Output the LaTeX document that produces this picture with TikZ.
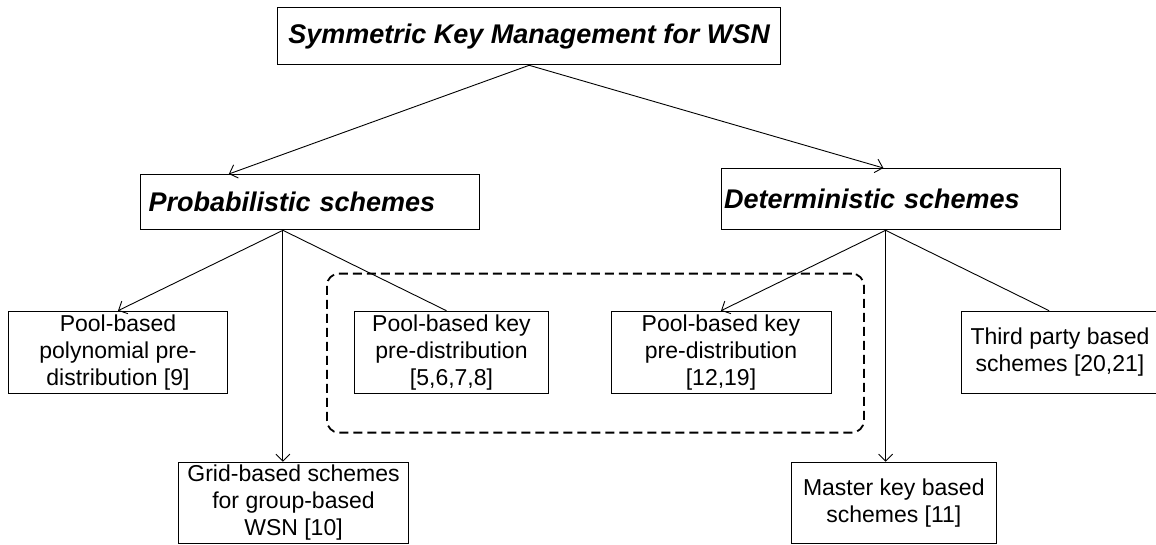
\documentclass[tikz,border=0pt]{standalone}
\usepackage{fontspec}
\setmainfont{Liberation Sans}
\usetikzlibrary{arrows.meta,calc}
\begin{document}
\begin{tikzpicture}[x=1pt,y=-1pt,
  headbox/.style={draw, line width=1.3pt, font=\fontsize{27}{32}\selectfont\bfseries\itshape, anchor=north west, inner sep=0pt},
  leafbox/.style={draw, line width=1pt, font=\fontsize{23}{27}\selectfont, align=center, anchor=north west, inner sep=0pt},
  conn/.style={line width=0.9pt},
  arr/.style={conn, -{Straight Barb[length=7pt,width=14pt]}},
  groupbox/.style={draw, line width=1.8pt, rounded corners=12pt, dash pattern=on 9pt off 5pt, anchor=north west, inner sep=0pt}
]
\useasboundingbox (0,0) rectangle (1156,544);

\node[groupbox, minimum width=537pt, minimum height=159pt] (grp) at (326,272.7) {};

\node[headbox, minimum width=503pt, minimum height=57pt] (root) at (277,7) {Symmetric Key Management for WSN};
\node[headbox, minimum height=55pt, inner xsep=8pt, text width=323pt, align=left] (prob) at (140,174) {Probabilistic schemes};
\node[headbox, minimum height=61pt, inner xsep=3pt, text width=333.5pt, align=left] (det) at (720.5,168) {Deterministic schemes};

\node[leafbox, minimum width=219pt, minimum height=82.6pt] (poly) at (8,310.7) {Pool-based\\polynomial pre-\\distribution [9]};
\node[leafbox, minimum width=194pt, minimum height=82.6pt] (k1) at (354,310.7) {Pool-based key\\pre-distribution\\{[5,6,7,8]}};
\node[leafbox, minimum width=220pt, minimum height=82.6pt] (k2) at (610.5,310.7) {Pool-based key\\pre-distribution\\{[12,19]}};
\node[leafbox, minimum width=197pt, minimum height=82.6pt] (third) at (961,310.7) {Third party based\\schemes [20,21]};
\node[leafbox, minimum width=230pt, minimum height=81.3pt] (grid) at (178,461.7) {Grid-based schemes\\for group-based\\WSN [10]};
\node[leafbox, minimum width=204.6pt, minimum height=81.3pt] (master) at (791,461.7) {Master key based\\schemes [11]};

\coordinate (ps) at ($(prob.south west)!0.42!(prob.south east)$);
\coordinate (ds) at ($(det.south west)!0.4845!(det.south east)$);

\draw[arr] (root.south) -- ($(prob.north west)!0.261!(prob.north east)$);
\draw[arr] (root.south) -- ($(det.north west)!0.478!(det.north east)$);
\draw[arr] (ps) -- (poly.north);
\draw[conn] (ps) -- ($(k1.north west)!0.474!(k1.north east)$);
\draw[arr] (ps) -- (ps |- grid.north);
\draw[arr] (ds) -- (k2.north);
\draw[conn] (ds) -- ($(third.north west)!0.445!(third.north east)$);
\draw[arr] (ds) -- (ds |- master.north);
\end{tikzpicture}
\end{document}
